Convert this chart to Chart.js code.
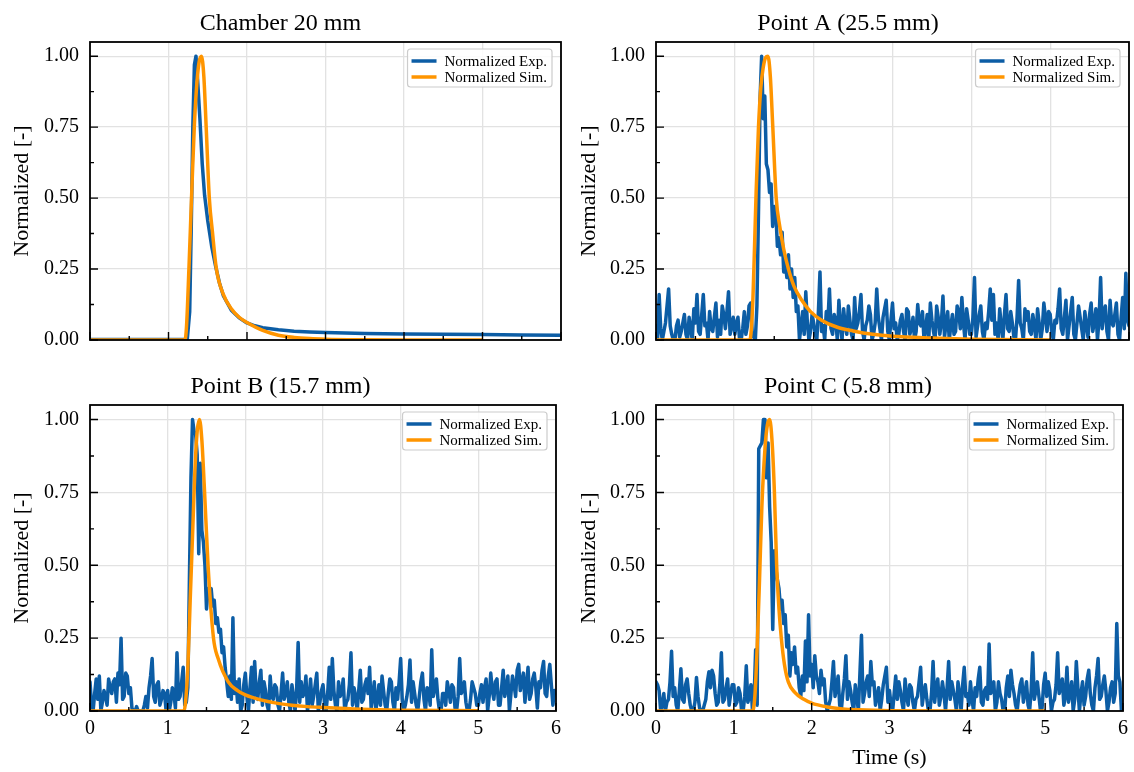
<!DOCTYPE html>
<html>
<head>
<meta charset="utf-8">
<script src="https://cdn.jsdelivr.net/npm/chart.js@4.4.0/dist/chart.umd.min.js"></script>
<style>
  html, body { margin: 0; padding: 0; background: #fff; }
  #fig { position: relative; width: 1134px; height: 772px; }
  .panel { position: absolute; }
</style>
</head>
<body>
<div id="fig">
  <div class="panel" style="left:0;top:0;width:567px;height:363px"><canvas id="c0"></canvas></div>
  <div class="panel" style="left:567px;top:0;width:567px;height:363px"><canvas id="c1"></canvas></div>
  <div class="panel" style="left:0;top:363px;width:567px;height:409px"><canvas id="c2"></canvas></div>
  <div class="panel" style="left:567px;top:363px;width:567px;height:409px"><canvas id="c3"></canvas></div>
</div>
<script>
// axes
const xTicks = [0, 1, 2, 3, 4, 5, 6];
const yTicks = [0, 0.25, 0.5, 0.75, 1];
const titles = ["Chamber 20 mm", "Point A (25.5 mm)", "Point B (15.7 mm)", "Point C (5.8 mm)"];
const seriesNames = ["Normalized Exp.", "Normalized Sim."];

// chamber: smooth exp trace
const chamberExpT = [0, 1.20, 1.24, 1.27, 1.29, 1.31, 1.33, 1.35, 1.37, 1.40,
  1.43, 1.46, 1.50, 1.55, 1.60, 1.65, 1.70, 1.80, 1.90, 2.00,
  2.10, 2.20, 2.40, 2.60, 2.80, 3.00, 3.50, 4.00, 4.50, 5.00, 5.50, 6.00];
const chamberExpY = [0.002, 0.002, 0.005, 0.10, 0.40, 0.75, 0.97, 1.00, 0.92, 0.78,
  0.62, 0.51, 0.42, 0.33, 0.26, 0.20, 0.155, 0.105, 0.078, 0.06,
  0.05, 0.043, 0.036, 0.031, 0.028, 0.026, 0.023, 0.021, 0.02, 0.019, 0.018, 0.017];
const chamberSimT = [0, 1.21, 1.23, 1.26, 1.28, 1.30, 1.33, 1.36, 1.39, 1.42,
  1.45, 1.48, 1.52, 1.56, 1.61, 1.70, 1.80, 1.90, 2.00, 2.20,
  2.40, 2.60, 2.80, 3.00, 3.50, 4.00, 5.00];
const chamberSimY = [0, 0, 0.05, 0.25, 0.40, 0.55, 0.76, 0.90, 0.98, 1.00,
  0.93, 0.75, 0.50, 0.38, 0.25, 0.16, 0.11, 0.08, 0.062, 0.034,
  0.017, 0.009, 0.005, 0.003, 0.001, 0, 0];

// noisy exp traces, one sample every 0.02 s from 0 to 6 s (one row per second)
const expStep = 0.02;
const pointAExp = [
  0.05, 0.00, 0.16, 0.04, 0.00, 0.03, 0.06, 0.12, 0.18, 0.05, 0.02, 0.00, 0.00, 0.05, 0.07, 0.01, 0.03, 0.06, 0.09, 0.02, 0.00, 0.08, 0.04, 0.00, 0.11, 0.06, 0.16, 0.03, 0.02, 0.09, 0.16, 0.05, 0.06, 0.00, 0.10, 0.04, 0.03, 0.08, 0.13, 0.01, 0.07, 0.02, 0.12, 0.09, 0.04, 0.10, 0.17, 0.02, 0.05, 0.08,
  0.02, 0.06, 0.08, 0.00, 0.00, 0.04, 0.10, 0.02, 0.05, 0.12, 0.13, 0.03, 0.01, 0.00, 0.12, 0.45, 0.85, 1.00, 0.78, 0.86, 0.62, 0.60, 0.52, 0.55, 0.40, 0.47, 0.45, 0.33, 0.36, 0.30, 0.38, 0.24, 0.28, 0.22, 0.30, 0.18, 0.25, 0.15, 0.22, 0.10, 0.12, 0.00, 0.05, 0.10, 0.02, 0.17, 0.06, 0.00, 0.03, 0.09,
  0.06, 0.02, 0.00, 0.10, 0.24, 0.03, 0.05, 0.00, 0.10, 0.06, 0.18, 0.04, 0.02, 0.09, 0.07, 0.00, 0.14, 0.05, 0.00, 0.11, 0.05, 0.02, 0.12, 0.07, 0.02, 0.00, 0.15, 0.04, 0.06, 0.10, 0.16, 0.03, 0.00, 0.05, 0.07, 0.12, 0.09, 0.00, 0.02, 0.06, 0.18, 0.08, 0.04, 0.00, 0.08, 0.11, 0.14, 0.03, 0.00, 0.07,
  0.13, 0.04, 0.06, 0.00, 0.02, 0.07, 0.09, 0.03, 0.00, 0.11, 0.10, 0.02, 0.04, 0.08, 0.00, 0.03, 0.125, 0.06, 0.05, 0.10, 0.00, 0.04, 0.09, 0.00, 0.13, 0.07, 0.03, 0.00, 0.12, 0.08, 0.02, 0.06, 0.155, 0.01, 0.06, 0.10, 0.00, 0.05, 0.09, 0.02, 0.03, 0.12, 0.10, 0.04, 0.15, 0.06, 0.00, 0.11, 0.07, 0.02,
  0.02, 0.08, 0.22, 0.01, 0.05, 0.09, 0.12, 0.03, 0.00, 0.06, 0.04, 0.10, 0.18, 0.07, 0.16, 0.02, 0.06, 0.00, 0.11, 0.05, 0.00, 0.09, 0.16, 0.04, 0.03, 0.10, 0.06, 0.01, 0.00, 0.08, 0.21, 0.06, 0.04, 0.00, 0.11, 0.07, 0.10, 0.03, 0.02, 0.09, 0.05, 0.00, 0.11, 0.06, 0.00, 0.04, 0.13, 0.08, 0.03, 0.10,
  0.09, 0.03, 0.00, 0.07, 0.06, 0.11, 0.18, 0.04, 0.02, 0.08, 0.14, 0.00, 0.05, 0.10, 0.15, 0.02, 0.00, 0.06, 0.12, 0.08, 0.04, 0.00, 0.10, 0.05, 0.01, 0.09, 0.13, 0.03, 0.06, 0.11, 0.00, 0.07, 0.22, 0.04, 0.10, 0.12, 0.03, 0.00, 0.14, 0.06, 0.05, 0.09, 0.13, 0.02, 0.00, 0.08, 0.15, 0.04, 0.235, 0.07,
  0.05];
const pointBExp = [
  0.10, 0.02, 0.00, 0.06, 0.11, 0.04, 0.12, 0.00, 0.03, 0.07, 0.05, 0.02, 0.11, 0.08, 0.06, 0.10, 0.11, 0.03, 0.13, 0.09, 0.25, 0.04, 0.05, 0.13, 0.12, 0.06, 0.08, 0.01, 0.00, 0.00, 0.015, 0.00, 0.00, 0.00, 0.00, 0.02, 0.05, 0.01, 0.08, 0.12, 0.18, 0.05, 0.03, 0.09, 0.10, 0.02, 0.04, 0.07, 0.06, 0.00,
  0.07, 0.00, 0.03, 0.08, 0.06, 0.01, 0.20, 0.04, 0.05, 0.10, 0.15, 0.02, 0.03, 0.08, 0.45, 0.80, 1.00, 0.96, 0.95, 0.88, 0.54, 0.85, 0.62, 0.58, 0.50, 0.35, 0.42, 0.40, 0.42, 0.36, 0.38, 0.30, 0.32, 0.27, 0.28, 0.20, 0.22, 0.15, 0.10, 0.05, 0.12, 0.04, 0.32, 0.06, 0.10, 0.03, 0.11, 0.00, 0.02, 0.09,
  0.13, 0.05, 0.00, 0.08, 0.15, 0.03, 0.17, 0.06, 0.04, 0.10, 0.14, 0.02, 0.10, 0.07, 0.02, 0.00, 0.12, 0.05, 0.04, 0.09, 0.08, 0.02, 0.00, 0.06, 0.13, 0.04, 0.06, 0.10, 0.03, 0.00, 0.09, 0.05, 0.00, 0.07, 0.235, 0.03, 0.10, 0.05, 0.06, 0.12, 0.00, 0.04, 0.11, 0.02, 0.05, 0.09, 0.13, 0.00, 0.03, 0.07,
  0.09, 0.03, 0.00, 0.06, 0.15, 0.04, 0.18, 0.07, 0.02, 0.00, 0.10, 0.05, 0.06, 0.11, 0.00, 0.03, 0.04, 0.09, 0.20, 0.02, 0.08, 0.05, 0.00, 0.07, 0.14, 0.03, 0.04, 0.09, 0.11, 0.06, 0.15, 0.01, 0.05, 0.10, 0.00, 0.04, 0.09, 0.02, 0.12, 0.07, 0.02, 0.00, 0.06, 0.11, 0.10, 0.03, 0.00, 0.08, 0.04, 0.10,
  0.18, 0.04, 0.00, 0.02, 0.05, 0.09, 0.175, 0.03, 0.10, 0.06, 0.02, 0.00, 0.05, 0.10, 0.13, 0.04, 0.00, 0.08, 0.07, 0.02, 0.21, 0.05, 0.08, 0.11, 0.04, 0.00, 0.00, 0.06, 0.06, 0.02, 0.10, 0.07, 0.03, 0.09, 0.08, 0.01, 0.00, 0.05, 0.18, 0.06, 0.07, 0.10, 0.03, 0.00, 0.00, 0.04, 0.10, 0.08, 0.06, 0.02,
  0.02, 0.06, 0.09, 0.03, 0.08, 0.11, 0.00, 0.05, 0.13, 0.07, 0.04, 0.10, 0.11, 0.02, 0.02, 0.08, 0.14, 0.05, 0.08, 0.12, 0.00, 0.06, 0.12, 0.09, 0.05, 0.14, 0.16, 0.07, 0.10, 0.13, 0.03, 0.09, 0.15, 0.04, 0.06, 0.11, 0.13, 0.08, 0.01, 0.10, 0.08, 0.14, 0.17, 0.06, 0.05, 0.12, 0.16, 0.09, 0.02, 0.07,
  0.06];
const pointCExp = [
  0.10, 0.09, 0.07, 0.00, 0.02, 0.06, 0.00, 0.03, 0.04, 0.10, 0.205, 0.05, 0.08, 0.02, 0.00, 0.07, 0.145, 0.04, 0.03, 0.09, 0.11, 0.06, 0.02, 0.00, 0.00, 0.03, 0.115, 0.05, 0.01, 0.00, 0.00, 0.02, 0.04, 0.10, 0.135, 0.08, 0.14, 0.12, 0.06, 0.02, 0.03, 0.09, 0.20, 0.03, 0.04, 0.08, 0.11, 0.02, 0.06, 0.09,
  0.09, 0.02, 0.03, 0.08, 0.06, 0.00, 0.00, 0.05, 0.155, 0.03, 0.05, 0.09, 0.00, 0.04, 0.21, 0.02, 0.90, 0.91, 0.92, 1.00, 1.00, 0.80, 0.92, 0.70, 0.58, 0.28, 0.55, 0.49, 0.45, 0.42, 0.35, 0.38, 0.30, 0.33, 0.22, 0.26, 0.12, 0.20, 0.16, 0.22, 0.13, 0.15, 0.08, 0.05, 0.12, 0.07, 0.24, 0.10, 0.33, 0.12,
  0.16, 0.08, 0.19, 0.12, 0.10, 0.06, 0.14, 0.09, 0.11, 0.03, 0.00, 0.02, 0.04, 0.10, 0.17, 0.05, 0.08, 0.12, 0.02, 0.00, 0.06, 0.11, 0.19, 0.04, 0.10, 0.07, 0.03, 0.00, 0.09, 0.05, 0.00, 0.13, 0.26, 0.03, 0.06, 0.10, 0.12, 0.05, 0.17, 0.09, 0.10, 0.02, 0.05, 0.08, 0.00, 0.04, 0.09, 0.12, 0.15, 0.03,
  0.07, 0.02, 0.00, 0.06, 0.12, 0.04, 0.10, 0.07, 0.03, 0.00, 0.11, 0.05, 0.02, 0.09, 0.08, 0.03, 0.00, 0.04, 0.05, 0.10, 0.15, 0.02, 0.06, 0.09, 0.04, 0.00, 0.00, 0.06, 0.17, 0.03, 0.08, 0.11, 0.02, 0.05, 0.10, 0.06, 0.00, 0.08, 0.17, 0.04, 0.10, 0.07, 0.04, 0.00, 0.10, 0.06, 0.00, 0.09, 0.15, 0.05,
  0.06, 0.02, 0.10, 0.04, 0.00, 0.08, 0.05, 0.11, 0.15, 0.03, 0.02, 0.07, 0.08, 0.04, 0.23, 0.06, 0.07, 0.10, 0.00, 0.03, 0.10, 0.06, 0.04, 0.00, 0.00, 0.08, 0.12, 0.05, 0.14, 0.09, 0.06, 0.02, 0.00, 0.05, 0.09, 0.11, 0.03, 0.06, 0.10, 0.02, 0.00, 0.07, 0.20, 0.04, 0.07, 0.10, 0.05, 0.00, 0.01, 0.09,
  0.13, 0.05, 0.10, 0.07, 0.00, 0.03, 0.04, 0.09, 0.20, 0.06, 0.08, 0.11, 0.02, 0.05, 0.15, 0.03, 0.06, 0.10, 0.00, 0.04, 0.17, 0.08, 0.00, 0.06, 0.10, 0.02, 0.05, 0.11, 0.14, 0.06, 0.02, 0.00, 0.08, 0.12, 0.18, 0.04, 0.05, 0.09, 0.12, 0.07, 0.00, 0.03, 0.08, 0.10, 0.03, 0.06, 0.30, 0.12, 0.10, 0.00,
  0.00];

// simulated curves
const pointASimT = [0, 1.19, 1.21, 1.23, 1.25, 1.27, 1.30, 1.33, 1.36, 1.39,
  1.42, 1.45, 1.48, 1.525, 1.57, 1.62, 1.68, 1.75, 1.85, 1.96,
  2.10, 2.30, 2.50, 2.75, 3.00, 3.50, 4.00, 5.00];
const pointASimY = [0, 0, 0.04, 0.15, 0.33, 0.52, 0.75, 0.89, 0.96, 0.995,
  1.00, 0.93, 0.76, 0.50, 0.40, 0.32, 0.25, 0.19, 0.14, 0.10,
  0.07, 0.045, 0.032, 0.02, 0.013, 0.007, 0.003, 0];
const pointBSimT = [0, 1.21, 1.23, 1.26, 1.29, 1.32, 1.35, 1.38, 1.41, 1.44,
  1.47, 1.52, 1.59, 1.65, 1.78, 1.90, 2.00, 2.20, 2.40, 2.60,
  2.80, 3.00, 3.50, 4.00, 5.00];
const pointBSimY = [0, 0, 0.03, 0.15, 0.38, 0.60, 0.82, 0.96, 1.00, 0.93,
  0.78, 0.50, 0.25, 0.18, 0.10, 0.07, 0.055, 0.038, 0.027, 0.02,
  0.015, 0.012, 0.006, 0.003, 0.001];
const pointCSimT = [0, 1.24, 1.27, 1.30, 1.33, 1.36, 1.40, 1.43, 1.46, 1.49,
  1.52, 1.55, 1.58, 1.61, 1.65, 1.70, 1.78, 1.90, 2.00, 2.20,
  2.40, 2.60, 3.00, 4.00, 5.00];
const pointCSimY = [0, 0, 0.05, 0.22, 0.45, 0.70, 0.90, 0.98, 1.00, 0.93,
  0.76, 0.50, 0.35, 0.25, 0.16, 0.10, 0.065, 0.04, 0.027, 0.014,
  0.007, 0.004, 0.001, 0, 0];

const expColor = "#0C5DA5";
const simColor = "#FF9500";
const gridColor = "#e2e2e2";

Chart.defaults.font.family = '"Liberation Serif", "Times New Roman", serif';
Chart.defaults.color = "#000";

function pairs(ts, ys) {
  return ys.map((y, i) => ({ x: ts[i], y: y }));
}
function sampled(ys) {
  return ys.map((y, i) => ({ x: +(i * expStep).toFixed(2), y: y }));
}
function midpoints(vals) {
  const out = [];
  for (let i = 0; i < vals.length - 1; i++) out.push((vals[i] + vals[i + 1]) / 2);
  return out;
}

// box + inward ticks, like the matplotlib spines
const framePlugin = {
  id: "frame",
  afterDraw(chart) {
    const { ctx, chartArea: a, scales } = chart;
    const x = scales.x, y = scales.y;
    ctx.save();
    ctx.strokeStyle = "#000";
    ctx.lineWidth = 1.4;
    ctx.beginPath();
    xTicks.forEach(v => { const p = x.getPixelForValue(v); ctx.moveTo(p, a.bottom); ctx.lineTo(p, a.bottom - 8); });
    midpoints(xTicks).forEach(v => { const p = x.getPixelForValue(v); ctx.moveTo(p, a.bottom); ctx.lineTo(p, a.bottom - 4); });
    yTicks.forEach(v => { const p = y.getPixelForValue(v); ctx.moveTo(a.left, p); ctx.lineTo(a.left + 8, p); });
    midpoints(yTicks).forEach(v => { const p = y.getPixelForValue(v); ctx.moveTo(a.left, p); ctx.lineTo(a.left + 4, p); });
    ctx.stroke();
    ctx.lineWidth = 1.8;
    ctx.strokeRect(a.left, a.top, a.right - a.left, a.bottom - a.top);
    ctx.restore();
  }
};

// legend box in the upper right corner of the plot
const legendBoxPlugin = {
  id: "legendBox",
  afterDraw(chart) {
    const { ctx, chartArea: a } = chart;
    const sets = chart.data.datasets;
    ctx.save();
    ctx.font = '15px "Liberation Serif", "Times New Roman", serif';
    const tw = Math.max(...sets.map(d => ctx.measureText(d.label).width));
    const w = 4 + 25 + 8 + tw + 5, h = 38;
    const bx = a.right - 9 - w, by = a.top + 7;
    ctx.fillStyle = "rgba(255,255,255,0.85)";
    ctx.strokeStyle = "#cccccc";
    ctx.lineWidth = 1.2;
    ctx.beginPath();
    if (ctx.roundRect) ctx.roundRect(bx, by, w, h, 3); else ctx.rect(bx, by, w, h);
    ctx.fill();
    ctx.stroke();
    sets.forEach((d, i) => {
      const ly = by + 12 + i * 16;
      ctx.strokeStyle = d.borderColor;
      ctx.lineWidth = 3.5;
      ctx.beginPath();
      ctx.moveTo(bx + 4, ly);
      ctx.lineTo(bx + 29, ly);
      ctx.stroke();
      ctx.fillStyle = "#000";
      ctx.textBaseline = "middle";
      ctx.fillText(d.label, bx + 37, ly + 1);
    });
    ctx.restore();
  }
};

function makePanel(id, cfg) {
  new Chart(document.getElementById(id), {
    type: "line",
    data: {
      datasets: [
        { label: seriesNames[0], data: cfg.exp, borderColor: expColor, borderWidth: 3.5, pointRadius: 0, borderJoinStyle: "round", borderCapStyle: "round", order: 1 },
        { label: seriesNames[1], data: cfg.sim, borderColor: simColor, borderWidth: 3.5, pointRadius: 0, borderJoinStyle: "round", cubicInterpolationMode: "monotone", order: 0 }
      ]
    },
    options: {
      responsive: true,
      maintainAspectRatio: false,
      animation: false,
      devicePixelRatio: 1,
      layout: { padding: { left: 0, right: cfg.padRight, top: 0, bottom: 0 } },
      plugins: {
        legend: { display: false },
        tooltip: { enabled: false },
        title: {
          display: true, text: cfg.title, color: "#000",
          font: { size: 24, weight: "normal", lineHeight: 1 },
          padding: { top: 12, bottom: 6 }
        }
      },
      scales: {
        x: {
          type: "linear", min: 0, max: 6,
          afterBuildTicks: s => { s.ticks = xTicks.map(v => ({ value: v })); },
          afterFit: s => { s.height = cfg.xHeight; },
          ticks: { display: cfg.showX, padding: 6, font: { size: 20 }, color: "#000", maxRotation: 0, callback: v => String(v) },
          grid: { color: gridColor, lineWidth: 1.3, drawTicks: false },
          border: { display: false },
          title: { display: !!cfg.xTitle, text: cfg.xTitle, color: "#000", font: { size: 22, lineHeight: 1 }, padding: { top: 0, bottom: 3 } }
        },
        y: {
          min: 0, max: 1.05,
          afterBuildTicks: s => { s.ticks = yTicks.map(v => ({ value: v })); },
          afterFit: s => { s.width = cfg.yWidth; },
          ticks: { padding: 11, font: { size: 20 }, color: "#000", callback: v => Number(v).toFixed(2) },
          grid: { color: gridColor, lineWidth: 1.3, drawTicks: false },
          border: { display: false },
          title: { display: true, text: "Normalized [-]", color: "#000", font: { size: 22, lineHeight: 1 }, padding: { top: 11, bottom: 0 } }
        }
      }
    },
    plugins: [framePlugin, legendBoxPlugin]
  });
}

makePanel("c0", { title: titles[0], exp: pairs(chamberExpT, chamberExpY), sim: pairs(chamberSimT, chamberSimY),
  showX: false, xTitle: "", xHeight: 14, yWidth: 90, padRight: 6 });
makePanel("c1", { title: titles[1], exp: sampled(pointAExp), sim: pairs(pointASimT, pointASimY),
  showX: false, xTitle: "", xHeight: 14, yWidth: 89, padRight: 5 });
makePanel("c2", { title: titles[2], exp: sampled(pointBExp), sim: pairs(pointBSimT, pointBSimY),
  showX: true, xTitle: "", xHeight: 61, yWidth: 90, padRight: 6 });
makePanel("c3", { title: titles[3], exp: sampled(pointCExp), sim: pairs(pointCSimT, pointCSimY),
  showX: true, xTitle: "Time (s)", xHeight: 61, yWidth: 89, padRight: 5 });
</script>
</body>
</html>
